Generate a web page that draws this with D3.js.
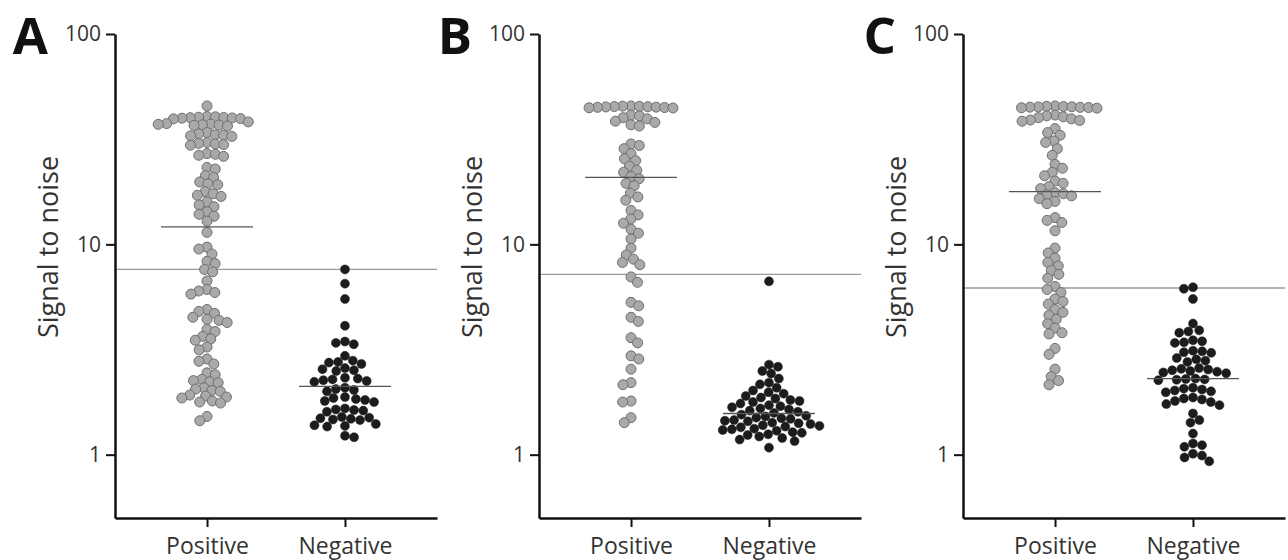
<!DOCTYPE html>
<html>
<head>
<meta charset="utf-8">
<script src="https://cdn.jsdelivr.net/npm/d3@7"></script>
<style>
  body { margin: 0; background: #fff; }
  svg { display: block; font-family: "Open Sans", sans-serif; }
</style>
</head>
<body>
<div class="dot-plots"></div>
<script>
const panels = ["A", "B", "C"];
const categories = ["Positive", "Negative"];
const yTicks = [1, 10, 100];

// signal to noise
const posA = [45.5,
  40.5, 40.2, 40, 39.8, 39.6, 40.4, 39.9, 40.1, 39.5,
  37.5, 37, 36.8, 37.2, 36.5, 36.9, 37.3, 38.2,
  34, 33.5, 33, 32.6, 33.2, 32.8,
  30.5, 30, 29.6, 30.2, 29.8,
  27, 26.5, 26.2, 26.8, 23.2, 22.8, 21.2, 20.8,
  19.8, 19.4, 19.2, 17.8, 17.4, 17.1, 16.9, 15.9, 15.4, 15.1,
  14.3, 13.9, 13.6, 12.9, 11.4, 9.7, 9.5, 9.0, 8.3, 8.1, 7.6, 7.4, 6.7,
  6.1, 6.0, 5.9, 5.8, 4.9, 4.8, 4.7, 4.5, 4.4, 4.35, 4.25,
  3.95, 3.85, 3.65, 3.55, 3.5, 3.25, 3.15, 2.85, 2.78, 2.7, 2.45, 2.4,
  2.28, 2.25, 2.22, 2.2, 2.08, 2.05, 2.02, 2.0, 1.92, 1.9, 1.88, 1.86,
  1.8, 1.78, 1.76, 1.52, 1.45];
const negA = [7.6, 6.5, 5.5, 4.1, 3.45, 3.4, 3.35, 2.95, 2.8, 2.76, 2.74, 2.7,
  2.58, 2.55, 2.52, 2.5, 2.32, 2.3, 2.28, 2.26, 2.24, 2.22, 2.08, 2.05, 2.03, 2.0,
  1.88, 1.86, 1.84, 1.82, 1.8, 1.78, 1.66, 1.64, 1.63, 1.62, 1.6,
  1.51, 1.5, 1.49, 1.48, 1.47, 1.46, 1.4, 1.38, 1.37, 1.36, 1.23, 1.21];

const posB = [45.5, 45.2, 45, 44.8, 44.6, 45.4, 44.9, 45.1, 44.7, 45.3, 44.5,
  41.2, 40.8, 40, 39.5, 38.5, 38, 37, 36.5,
  30, 29.5, 28.5, 27, 25.5, 25, 23.5, 22.5, 22, 21, 20.5, 19.5, 19,
  17.5, 16.8, 16.2, 14.5, 13.8, 13.2, 12.6, 11.8, 11.3, 10.6, 9.6, 8.9, 8.5, 8.2,
  8.0, 7.0, 6.6, 5.3, 5.1, 4.5, 4.3, 3.6, 3.4, 2.95, 2.85, 2.55, 2.2, 2.15,
  1.8, 1.78, 1.5, 1.42];
const negB = [6.67, 2.68, 2.62, 2.5, 2.43, 2.3, 2.2, 2.16, 2.08, 2.02, 1.98, 1.95,
  1.9, 1.87, 1.85, 1.82, 1.8, 1.78, 1.75, 1.72, 1.7, 1.68, 1.66, 1.64, 1.62, 1.6, 1.58,
  1.55, 1.53, 1.52, 1.5, 1.49, 1.48, 1.46, 1.45, 1.44, 1.42, 1.41, 1.4, 1.38, 1.37,
  1.36, 1.35, 1.33, 1.32, 1.31, 1.3, 1.28, 1.27, 1.25, 1.24, 1.22, 1.2, 1.18, 1.16, 1.08];

const posC = [45.5, 45.2, 45, 44.8, 44.6, 45.3, 44.9, 45.1, 44.7, 44.4,
  41.2, 40.8, 40.4, 40, 39.5, 39, 38.8, 38.5, 35.5, 34, 33, 31, 30.5, 28.5, 26.5,
  24, 23, 22, 21.2, 20, 19.5, 18.8, 18.4, 17.6, 17.4, 17.2, 17, 16.5, 16, 15.6,
  13.4, 13, 12.7, 11.6, 9.6, 9.1, 8.6, 8.2, 7.9, 7.5, 7.2, 6.9, 6.3, 6.1, 5.9,
  5.5, 5.35, 5.2, 4.9, 4.75, 4.6, 4.4, 4.2, 4.0, 3.8, 3.75, 3.2, 3.0,
  2.55, 2.35, 2.25, 2.15];
const negC = [6.25, 6.15, 5.5, 4.2, 3.9, 3.85, 3.8, 3.5, 3.46, 3.42, 3.4,
  3.12, 3.1, 3.07, 3.05, 2.88, 2.84, 2.8, 2.76, 2.58, 2.56, 2.54, 2.52, 2.5, 2.48, 2.46, 2.44,
  2.3, 2.29, 2.28, 2.27, 2.26, 2.08, 2.06, 2.04, 2.02, 2.0, 1.98,
  1.87, 1.85, 1.83, 1.8, 1.78, 1.74, 1.72, 1.57, 1.46, 1.42, 1.26,
  1.13, 1.11, 1.09, 1.01, 0.99, 0.97, 0.93];

const cutoffs = [7.6, 7.2, 6.2];
const medPos = [12.1, 20.8, 17.8];
const medNeg = [2.11, 1.57, 2.3];

const W = 1288, H = 560;
const left0 = 115, panelStep = 424, pw = 322;
const plotTop = 34, plotBottom = 518;

const posAll = [posA, posB, posC];
const negAll = [negA, negB, negC];
const rows = panels.map((p, i) => ({
  label: p,
  groups: [posAll[i], negAll[i]],
  cut: cutoffs[i],
  med: [medPos[i], medNeg[i]]
}));

const y = d3.scaleLog().domain([0.5, 100]).range([plotBottom, plotTop]);
const x = d3.scalePoint().domain(categories).range([0, pw]).padding(0.667);

// simple beeswarm: each point goes as close to the centre as it can
function swarm(values, dist) {
  const pts = values.map(v => ({ v, y: y(v) })).sort((a, b) => a.y - b.y);
  const placed = [];
  pts.forEach((p, k) => {
    const near = placed.filter(q => Math.abs(q.y - p.y) < dist);
    const cands = [0];
    near.forEach(q => {
      const dx = Math.sqrt(dist * dist - (q.y - p.y) ** 2);
      cands.push(q.dx - dx, q.dx + dx);
    });
    cands.sort((a, b) => Math.abs(a) - Math.abs(b) || (k % 2 ? a - b : b - a));
    for (const c of cands) {
      if (near.every(q => (q.dx - c) ** 2 + (q.y - p.y) ** 2 >= dist * dist - 0.01)) {
        p.dx = c;
        break;
      }
    }
    placed.push(p);
  });
  return placed;
}

const svg = d3.select(".dot-plots")
  .append("svg")
  .attr("width", W)
  .attr("height", H);

svg.append("rect").attr("width", W).attr("height", H).attr("fill", "#fff");

rows.forEach((row, i) => {
  const g = svg.append("g").attr("transform", `translate(${left0 + i * panelStep},0)`);

  // cutoff
  g.append("line")
    .attr("x1", 0).attr("x2", pw)
    .attr("y1", y(row.cut)).attr("y2", y(row.cut))
    .attr("stroke", "#9a9a9a").attr("stroke-width", 1.3);

  // dots
  const styles = [
    { r: 5, fill: "#a9a9a9", stroke: "#6f6f6f", sw: 1, dist: 8.4 },
    { r: 4.5, fill: "#1c1c1c", stroke: "#1c1c1c", sw: 0.5, dist: 9.2 }
  ];
  row.groups.forEach((vals, j) => {
    const s = styles[j];
    const cx = x(categories[j]);
    g.append("g").selectAll("circle")
      .data(swarm(vals, s.dist))
      .enter()
      .append("circle")
      .attr("cx", d => cx + d.dx)
      .attr("cy", d => d.y)
      .attr("r", s.r)
      .attr("fill", s.fill)
      .attr("stroke", s.stroke)
      .attr("stroke-width", s.sw);

    // median
    g.append("line")
      .attr("x1", cx - 46).attr("x2", cx + 46)
      .attr("y1", y(row.med[j])).attr("y2", y(row.med[j]))
      .attr("stroke", "#555").attr("stroke-width", 1.3);
  });

  // axes
  const yAxis = g.append("g")
    .call(d3.axisLeft(y).tickValues(yTicks).tickFormat(d3.format("d"))
      .tickSize(9).tickSizeOuter(0).tickPadding(5));
  const xAxis = g.append("g")
    .attr("transform", `translate(0,${plotBottom})`)
    .call(d3.axisBottom(x).tickSize(9).tickSizeOuter(0).tickPadding(11));

  [yAxis, xAxis].forEach(a => {
    a.select(".domain").attr("stroke", "#111").attr("stroke-width", 2.5);
    a.selectAll(".tick line").attr("stroke", "#111").attr("stroke-width", 2);
    a.selectAll(".tick text").attr("fill", "#333").style("font-family", "Open Sans");
  });
  yAxis.selectAll(".tick text").style("font-size", "21px");
  xAxis.selectAll(".tick text").style("font-size", "23px");

  g.append("text")
    .attr("text-anchor", "middle")
    .attr("transform", "translate(-57,247) rotate(-90)")
    .attr("fill", "#333")
    .style("font-size", "27px")
    .text("Signal to noise");

  g.append("text")
    .attr("x", -67).attr("y", 54)
    .attr("text-anchor", "end")
    .attr("fill", "#111")
    .style("font-size", "51px")
    .style("font-weight", "bold")
    .text(row.label);
});
</script>
</body>
</html>
